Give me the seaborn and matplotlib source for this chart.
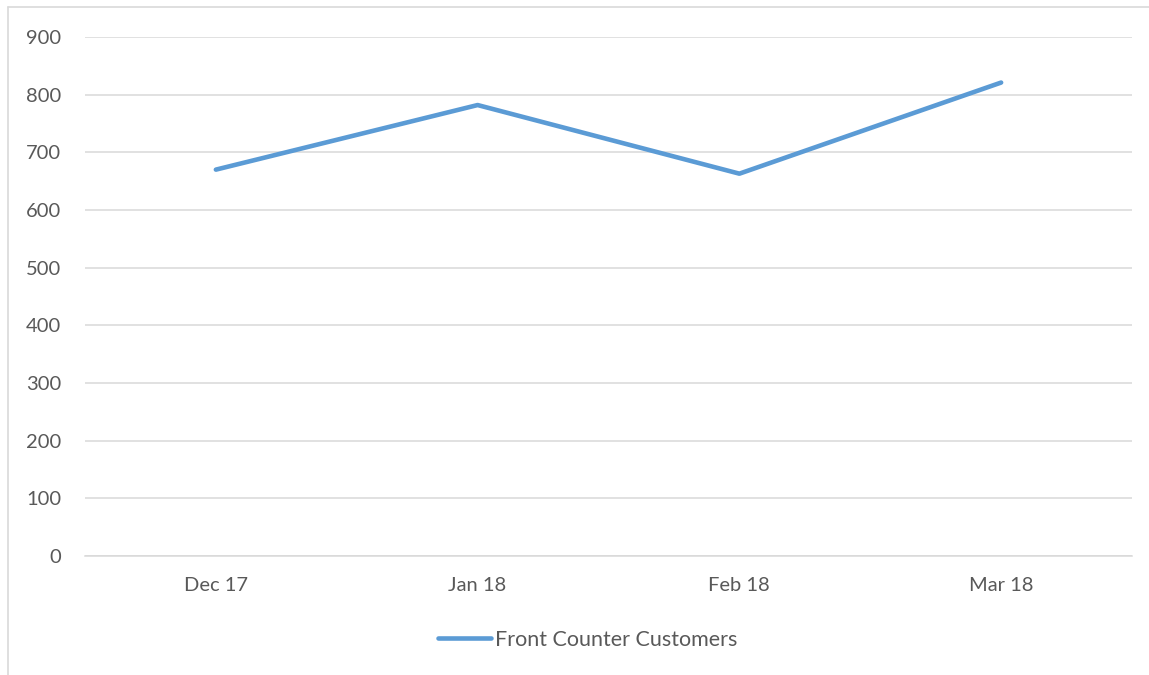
import matplotlib
matplotlib.use('Agg')
import matplotlib.pyplot as plt
import pandas as pd
import seaborn as sns
from matplotlib.lines import Line2D

months = ['Dec 17', 'Jan 18', 'Feb 18', 'Mar 18']
customers = [670, 782, 663, 821]

df = pd.DataFrame({'Month': months, 'Front Counter Customers': customers})

sns.set_style('white')
plt.rcParams['font.family'] = ['Lato', 'DejaVu Sans']

fig = plt.figure(figsize=(11.49, 6.75), dpi=100)
ax = fig.add_axes([85 / 1149, 1 - 556 / 675, (1132 - 85) / 1149, (556 - 37) / 675])

sns.lineplot(data=df, x='Month', y='Front Counter Customers', ax=ax, sort=False,
             color='#5B9BD5', linewidth=3.3, solid_capstyle='round',
             label='Front Counter Customers', legend=False)

ax.set_xlim(-0.5, 3.5)
ax.set_ylim(0, 900)
ax.set_yticks(range(0, 901, 100))
ax.grid(axis='y', color='#D9D9D9', linewidth=1.1)
ax.set_axisbelow(True)
for side in ['top', 'right', 'left']:
    ax.spines[side].set_visible(False)
ax.spines['bottom'].set_color('#D9D9D9')
ax.spines['bottom'].set_linewidth(1.1)
ax.tick_params(axis='both', length=0, labelsize=14.5, colors='#595959')
ax.tick_params(axis='x', pad=15)
ax.tick_params(axis='y', pad=17)
ax.set_xlabel('')
ax.set_ylabel('')

handle = Line2D([], [], color='#5B9BD5', linewidth=3.3, solid_capstyle='round')
leg = fig.legend([handle], ['Front Counter Customers'], loc='center',
                 bbox_to_anchor=(588 / 1149, 1 - 640 / 675), frameon=False,
                 fontsize=15.5, handlelength=2.45, handletextpad=0.2)
for t in leg.get_texts():
    t.set_color('#595959')

# chart area border (partially visible in the original)
fig.add_artist(Line2D([8 / 1149, 8 / 1149], [0, 1 - 7 / 675], color='#D9D9D9', linewidth=1.2))
fig.add_artist(Line2D([8 / 1149, 1], [1 - 7 / 675, 1 - 7 / 675], color='#D9D9D9', linewidth=1.2))

fig.savefig('out.png', dpi=100)
